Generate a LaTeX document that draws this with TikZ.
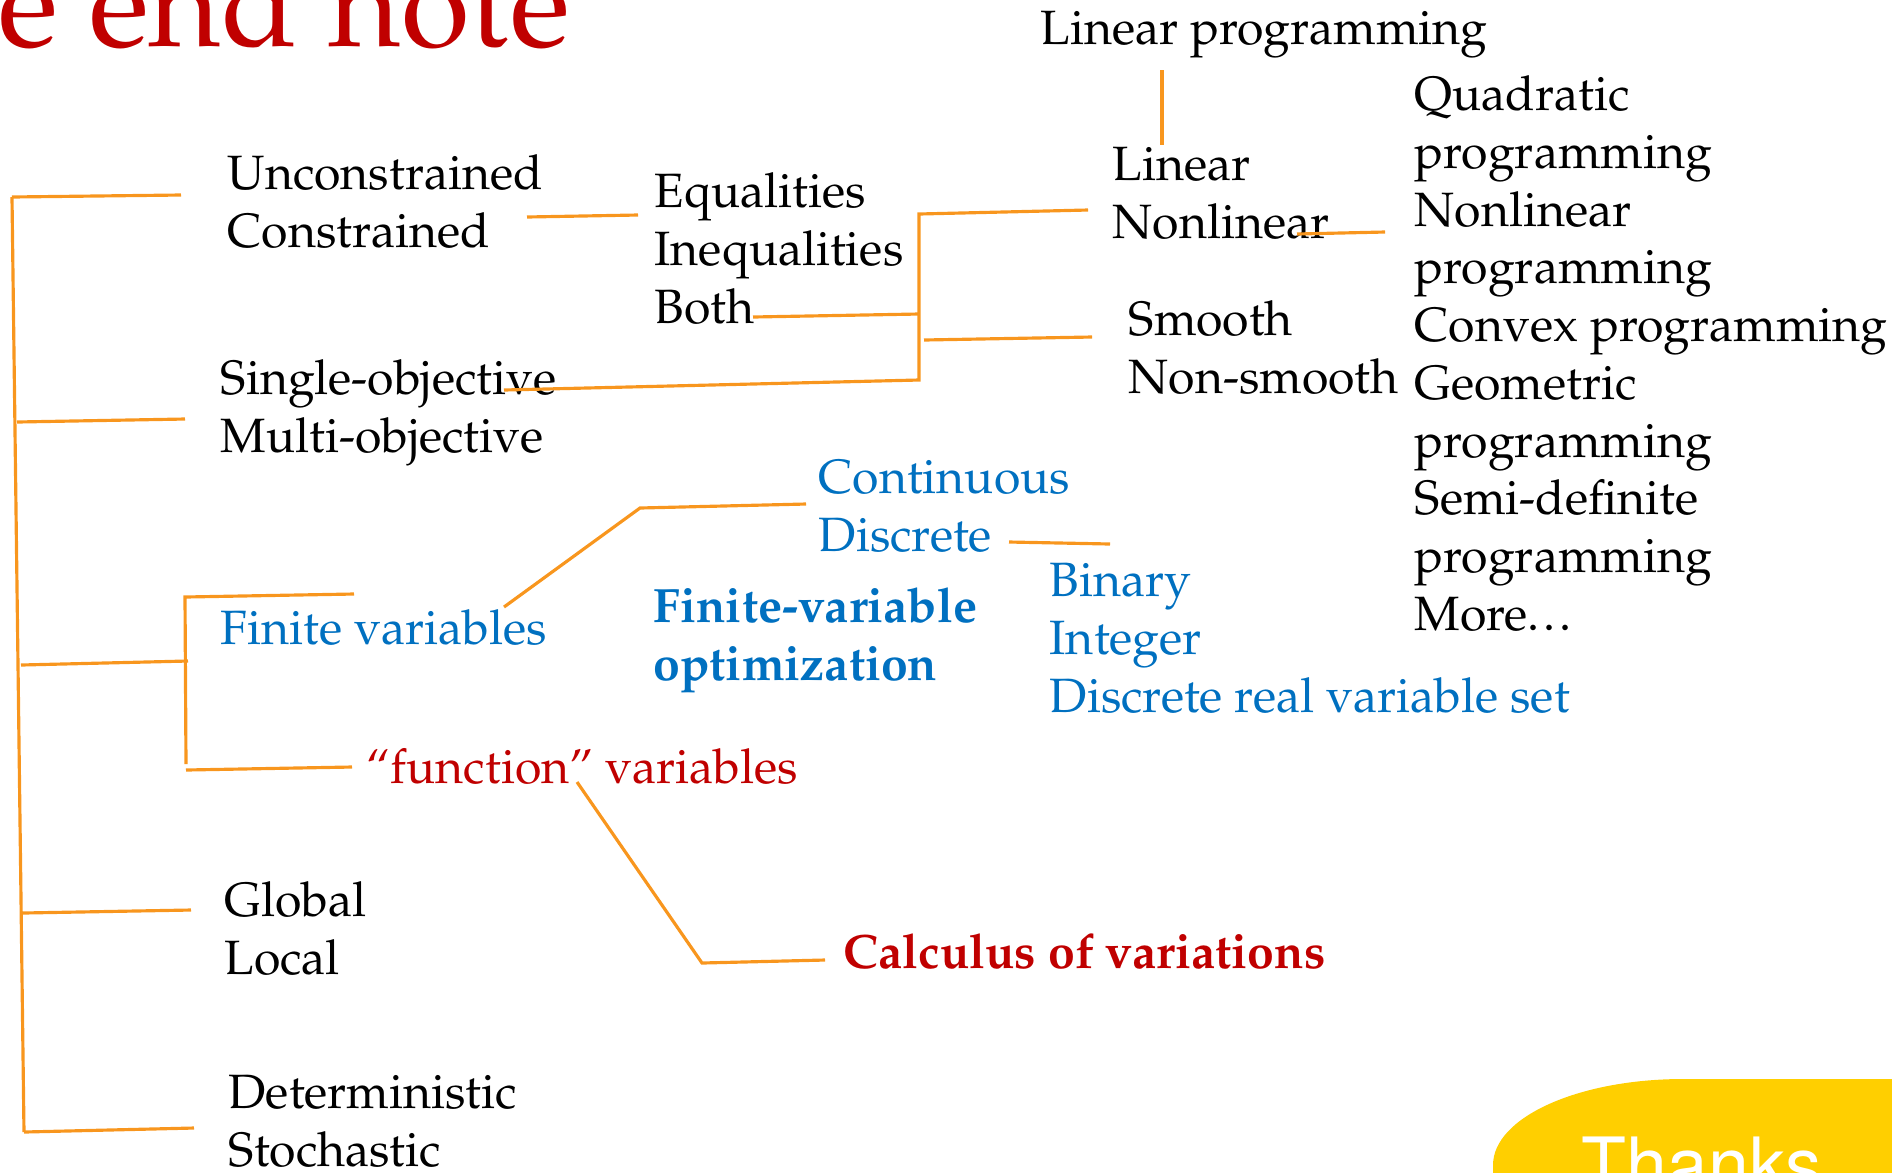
\documentclass[tikz,border=0pt]{standalone}
\usepackage[T1]{fontenc}
\usepackage{mathpazo}
\usepackage{xcolor}
\definecolor{lineorange}{RGB}{248,150,30}
\definecolor{termblue}{RGB}{0,112,192}
\definecolor{termred}{RGB}{192,0,0}
\definecolor{thanksyellow}{RGB}{255,207,0}

\begin{document}
\begin{tikzpicture}[
    x=0.01cm, y=-0.01cm,
    % Styles
    term/.style={% For the plain text blocks (placed at the baseline of their last line)
        anchor=base west,
        align=left,
        inner sep=0pt,
        font=\fontsize{13.7}{16.4}\selectfont,
        },
    blueterm/.style={% For the finite-variable branch
        term,
        text=termblue,
        },
    redterm/.style={% For the function branch
        term,
        text=termred,
        },
    boldterm/.style={% For the bold headings
        term,
        font=\fontsize{13.7}{16.4}\selectfont\bfseries,
        },
    branch/.style={% For the orange tree lines
        draw=lineorange,
        line width=0.9pt,
        },
    ]
    \useasboundingbox (0,0) rectangle (1892,1172);

    %Title, cut at the top
    \node [anchor=base east, inner sep=0pt, text=termred,
           font=\fontsize{35.5}{40}\selectfont] (title) at (571,46) {e end note};

    %Draw the terms
    %first column
    \node [term] (uncon) at (227,247) {Unconstrained\\Constrained};
    \node [term] (obj) at (220,452) {Single-objective\\Multi-objective};
    \node [blueterm] (finvar) at (220,644) {Finite variables};
    \node [redterm] (funvar) at (366,783) {``function'' variables};
    \node [term] (globloc) at (224,974) {Global\\Local};
    \node [term] (detsto) at (228,1166) {Deterministic\\Stochastic};
    %second column
    \node [term] (eqs) at (654,323) {Equalities\\Inequalities\\Both};
    \node [blueterm] (contdisc) at (818,551) {Continuous\\Discrete};
    \node [boldterm, text=termblue] (finopt) at (653,680) {Finite-variable\\optimization};
    \node [boldterm, text=termred] (calc) at (843,968) {Calculus of variations};
    %third column
    \node [term] (linprog) at (1040,44) {Linear programming};
    \node [term] (linnon) at (1112,238) {Linear\\Nonlinear};
    \node [term] (smooth) at (1128,393) {Smooth\\Non-smooth};
    \node [blueterm] (binint) at (1049,712) {Binary\\Integer\\Discrete real variable set};
    %last column
    \node [term] (progs) at (1414,630) {Quadratic\\programming\\Nonlinear\\programming\\Convex programming\\Geometric\\programming\\Semi-definite\\programming\\More.\kern.08em.\kern.08em.};

    %Thanks badge
    \fill [thanksyellow] (1493,1180) -- (1493,1165)
        arc [start angle=180, end angle=270, x radius=190, y radius=86]
        -- (1900,1079) -- (1900,1180) -- cycle;
    \node [anchor=base west, inner sep=0pt, text=white,
           font=\fontfamily{phv}\fontsize{20.9}{24}\selectfont] (thanks) at (1581,1190) {Thanks};

    %Points of the tree lines
    \coordinate (rootA) at (12,197);
    \coordinate (rootB) at (17,422);
    \coordinate (rootC) at (21,665);
    \coordinate (rootD) at (23,913);
    \coordinate (rootE) at (24,1132);
    \coordinate (tipA) at (181,195);
    \coordinate (tipB) at (185,419);
    \coordinate (tipC) at (188,661);
    \coordinate (tipD) at (191,910);
    \coordinate (tipE) at (194,1128);
    \coordinate (varT) at (185,597);
    \coordinate (varB) at (186,764);
    \coordinate (varB2) at (186,770);
    \coordinate (finT) at (354,594);
    \coordinate (funT) at (352,767);
    \coordinate (consA) at (527,217);
    \coordinate (consB) at (638,215);
    \coordinate (brkT) at (919,214);
    \coordinate (brkM) at (919,314);
    \coordinate (brkB) at (919,380);
    \coordinate (linT) at (1088,210);
    \coordinate (bothA) at (753,317);
    \coordinate (smoA) at (924,340);
    \coordinate (smoB) at (1092,337);
    \coordinate (objA) at (504,390);
    \coordinate (lpA) at (1162,70);
    \coordinate (lpB) at (1162,145);
    \coordinate (nlA) at (1297,234);
    \coordinate (nlB) at (1385,232);
    \coordinate (finA) at (504,607);
    \coordinate (finB) at (640,508);
    \coordinate (finC) at (806,504);
    \coordinate (discA) at (1009,542);
    \coordinate (discB) at (1110,544);
    \coordinate (funA) at (577,782);
    \coordinate (funB) at (702,963);
    \coordinate (funC) at (825,960);

    % Draw the lines
    % main tree
    \draw [branch] (rootA) -- (rootE);
    \foreach \i in {A,B,C,D,E}
        \draw [branch] (root\i) -- (tip\i);
    \draw [branch] (finT) -- (varT) -- (varB);
    \draw [branch] (varB2) -- (funT);
    % constraints and objectives
    \draw [branch] (consA) -- (consB);
    \draw [branch] (linT) -- (brkT) -- (brkB) -- (objA);
    \draw [branch] (bothA) -- (brkM);
    \draw [branch] (smoA) -- (smoB);
    \draw [branch] (lpA) -- (lpB);
    \draw [branch] (nlA) -- (nlB);
    % variables
    \draw [branch] (finA) -- (finB) -- (finC);
    \draw [branch] (discA) -- (discB);
    \draw [branch] (funA) -- (funB) -- (funC);
\end{tikzpicture}
\end{document}
